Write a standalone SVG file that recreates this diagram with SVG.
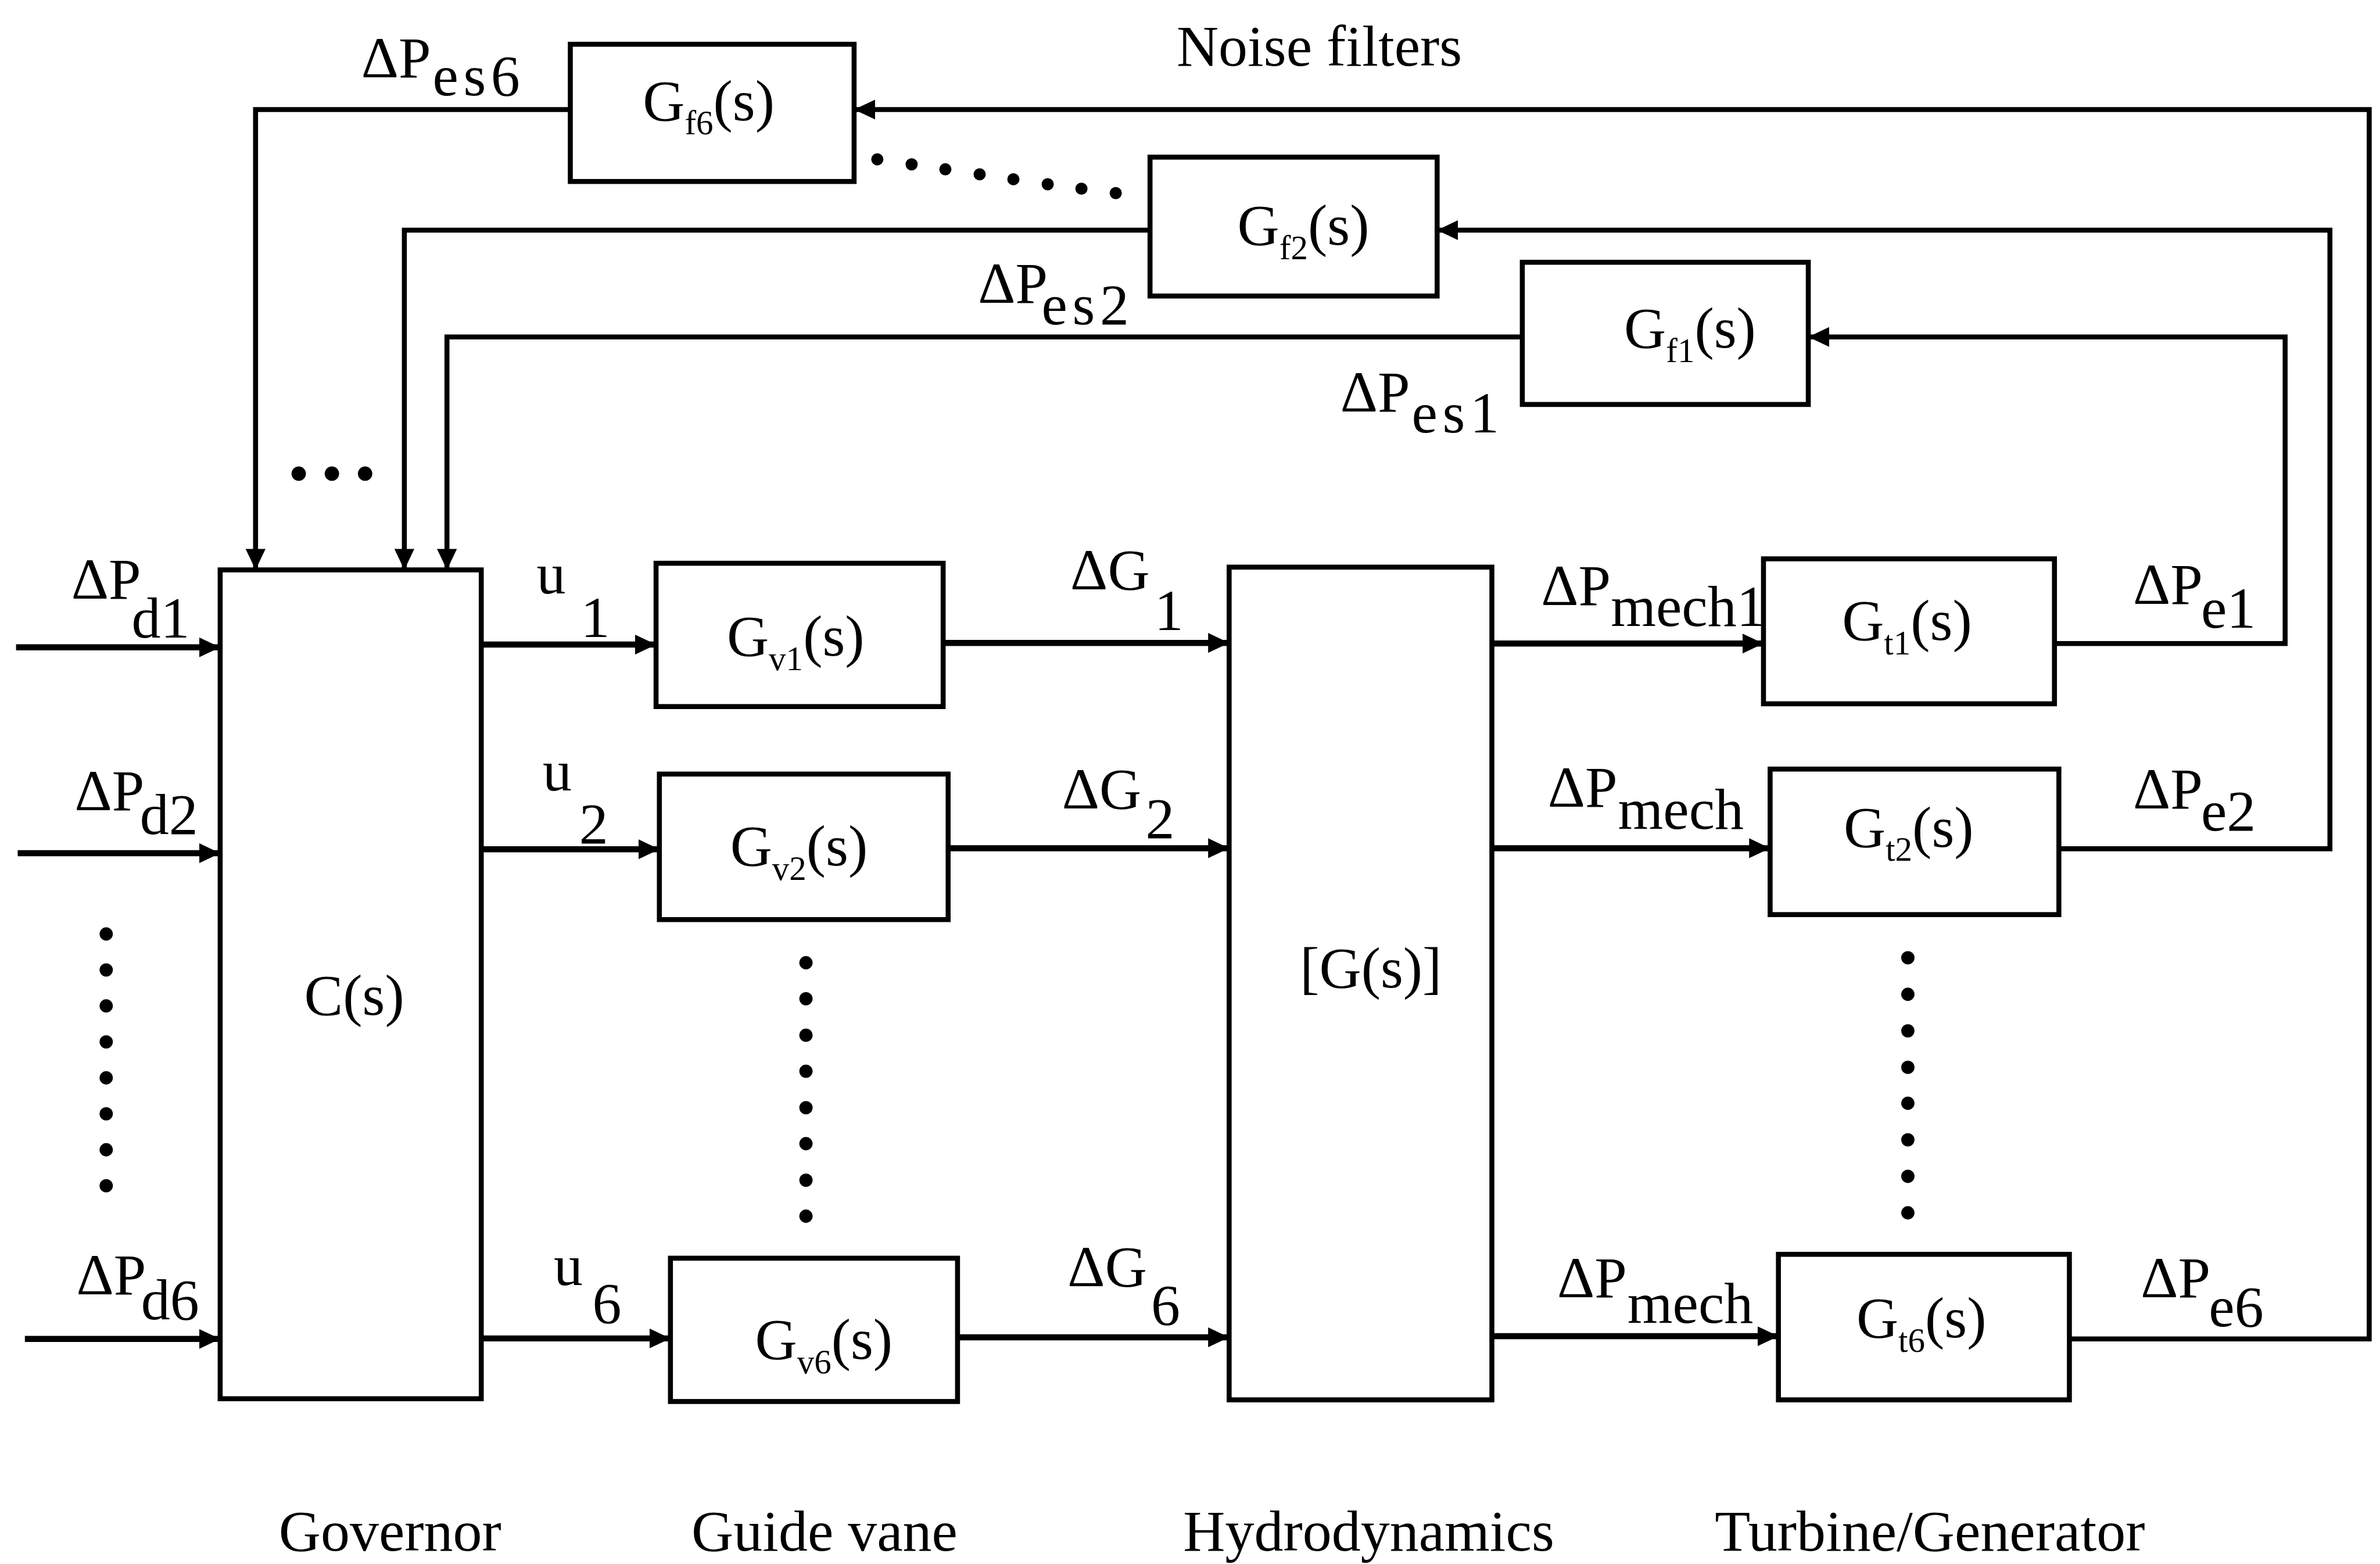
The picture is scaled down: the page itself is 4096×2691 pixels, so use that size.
<svg xmlns="http://www.w3.org/2000/svg" width="4096" height="2691" viewBox="0 0 4096 2691">
<style>
.bx{fill:none;stroke:#000;stroke-width:9}
.ln{fill:none;stroke:#000;stroke-width:11;stroke-linejoin:miter}
.fb{fill:none;stroke:#000;stroke-width:9;stroke-linejoin:miter}
.t{font-family:"Liberation Serif","Times New Roman",serif;font-size:105px;fill:#000}
.s{font-size:62px}
.sp{letter-spacing:9px}
.dot{fill:#000}
</style>
<defs>
<marker id="ah" markerUnits="userSpaceOnUse" markerWidth="40" markerHeight="38" refX="38" refY="18" orient="auto" viewBox="0 0 40 38">
<path d="M0,0 L38,18 L0,36 Z" fill="#000"/>
</marker>
</defs>
<rect width="4096" height="2691" fill="#fff"/>
<g transform="scale(0.952)">
<g id="connectors">
<path class="ln" marker-end="url(#ah)" d="M29,1170 H398"/>
<path class="ln" marker-end="url(#ah)" d="M32,1542 H398"/>
<path class="ln" marker-end="url(#ah)" d="M45,2420 H398"/>
<path class="ln" marker-end="url(#ah)" d="M870,1165 H1186"/>
<path class="ln" marker-end="url(#ah)" d="M870,1535 H1192"/>
<path class="ln" marker-end="url(#ah)" d="M870,2419 H1212"/>
<path class="ln" marker-end="url(#ah)" d="M1705,1162 H2222"/>
<path class="ln" marker-end="url(#ah)" d="M1714,1533 H2222"/>
<path class="ln" marker-end="url(#ah)" d="M1731,2417 H2222"/>
<path class="ln" marker-end="url(#ah)" d="M2697,1163 H3188"/>
<path class="ln" marker-end="url(#ah)" d="M2697,1533 H3200"/>
<path class="ln" marker-end="url(#ah)" d="M2697,2415 H3215"/>
<path class="fb" marker-end="url(#ah)" d="M3714,1163 H4131 V609 H3269"/>
<path class="fb" marker-end="url(#ah)" d="M3722,1534 H4212 V416 H2598"/>
<path class="fb" marker-end="url(#ah)" d="M3741,2420 H4283 V198 H1544"/>
<path class="fb" marker-end="url(#ah)" d="M1031,198 H462 V1030"/>
<path class="fb" marker-end="url(#ah)" d="M2079,416 H731 V1030"/>
<path class="fb" marker-end="url(#ah)" d="M2752,609 H808 V1030"/>
</g>
<g id="node-gf6"><rect class="bx" x="1031" y="80" width="513" height="248"/><text class="t" x="1162" y="217">G<tspan class="s" dy="26">f6</tspan><tspan dy="-26">(s)</tspan></text></g>
<g id="node-gf2"><rect class="bx" x="2079" y="284" width="519" height="251"/><text class="t" x="2237" y="442">G<tspan class="s" dy="26">f2</tspan><tspan dy="-26">(s)</tspan></text></g>
<g id="node-gf1"><rect class="bx" x="2752" y="474" width="517" height="257"/><text class="t" x="2936" y="628">G<tspan class="s" dy="26">f1</tspan><tspan dy="-26">(s)</tspan></text></g>
<g id="node-cs"><rect class="bx" x="398" y="1030" width="472" height="1498"/><text class="t" x="550" y="1834">C(s)</text></g>
<g id="node-gv1"><rect class="bx" x="1186" y="1018" width="519" height="259"/><text class="t" x="1314" y="1185">G<tspan class="s" dy="26">v1</tspan><tspan dy="-26">(s)</tspan></text></g>
<g id="node-gv2"><rect class="bx" x="1192" y="1399" width="522" height="263"/><text class="t" x="1320" y="1564">G<tspan class="s" dy="26">v2</tspan><tspan dy="-26">(s)</tspan></text></g>
<g id="node-gv6"><rect class="bx" x="1212" y="2274" width="519" height="259"/><text class="t" x="1365" y="2456">G<tspan class="s" dy="26">v6</tspan><tspan dy="-26">(s)</tspan></text></g>
<g id="node-gs"><rect class="bx" x="2222" y="1025" width="475" height="1505"/><text class="t" x="2350" y="1785">[G(s)]</text></g>
<g id="node-gt1"><rect class="bx" x="3188" y="1010" width="526" height="262"/><text class="t" x="3330" y="1157">G<tspan class="s" dy="26">t1</tspan><tspan dy="-26">(s)</tspan></text></g>
<g id="node-gt2"><rect class="bx" x="3200" y="1390" width="522" height="263"/><text class="t" x="3333" y="1530">G<tspan class="s" dy="26">t2</tspan><tspan dy="-26">(s)</tspan></text></g>
<g id="node-gt6"><rect class="bx" x="3215" y="2267" width="526" height="263"/><text class="t" x="3356" y="2417">G<tspan class="s" dy="26">t6</tspan><tspan dy="-26">(s)</tspan></text></g>
<g id="labels">
<text class="t" x="2127" y="119">Noise filters</text>
<text class="t" x="653" y="140">ΔP</text><text class="t sp" x="782" y="172">es6</text>
<text class="t" x="1768" y="547">ΔP</text><text class="t sp" x="1883" y="586">es2</text>
<text class="t" x="2423" y="744">ΔP</text><text class="t sp" x="2552" y="782">es1</text>
<text class="t" x="129" y="1082">ΔP</text><text class="t" x="238" y="1152">d1</text>
<text class="t" x="135" y="1464">ΔP</text><text class="t" x="253" y="1507">d2</text>
<text class="t" x="138" y="2339">ΔP</text><text class="t" x="255" y="2384">d6</text>
<text class="t" x="970" y="1073">u</text><text class="t" x="1050" y="1151">1</text>
<text class="t" x="981" y="1429">u</text><text class="t" x="1047" y="1524">2</text>
<text class="t" x="1001" y="2322">u</text><text class="t" x="1071" y="2391">6</text>
<text class="t" x="1935" y="1065">ΔG</text><text class="t" x="2087" y="1139">1</text>
<text class="t" x="1920" y="1461">ΔG</text><text class="t" x="2071" y="1515">2</text>
<text class="t" x="1930" y="2325">ΔG</text><text class="t" x="2081" y="2394">6</text>
<text class="t" x="2786" y="1093">ΔP</text><text class="t" x="2912" y="1131">mech1</text>
<text class="t" x="2798" y="1458">ΔP</text><text class="t" x="2925" y="1498">mech</text>
<text class="t" x="2815" y="2345">ΔP</text><text class="t" x="2942" y="2391">mech</text>
<text class="t" x="3856" y="1091">ΔP</text><text class="t" x="3979" y="1134">e1</text>
<text class="t" x="3856" y="1461">ΔP</text><text class="t" x="3979" y="1501">e2</text>
<text class="t" x="3870" y="2345">ΔP</text><text class="t" x="3993" y="2397">e6</text>
<text class="t" x="504" y="2802">Governor</text>
<text class="t" x="1250" y="2802">Guide vane</text>
<text class="t" x="2139" y="2802">Hydrodynamics</text>
<text class="t" x="3100" y="2802">Turbine/Generator</text>
</g>
<g id="dots">
<circle class="dot" cx="192" cy="1688" r="12"/><circle class="dot" cx="192" cy="1753" r="12"/><circle class="dot" cx="192" cy="1818" r="12"/><circle class="dot" cx="192" cy="1883" r="12"/><circle class="dot" cx="192" cy="1948" r="12"/><circle class="dot" cx="192" cy="2013" r="12"/><circle class="dot" cx="192" cy="2078" r="12"/><circle class="dot" cx="192" cy="2143" r="12"/>
<circle class="dot" cx="1457" cy="1740" r="12"/><circle class="dot" cx="1457" cy="1805" r="12"/><circle class="dot" cx="1457" cy="1871" r="12"/><circle class="dot" cx="1457" cy="1936" r="12"/><circle class="dot" cx="1457" cy="2002" r="12"/><circle class="dot" cx="1457" cy="2067" r="12"/><circle class="dot" cx="1457" cy="2133" r="12"/><circle class="dot" cx="1457" cy="2198" r="12"/>
<circle class="dot" cx="3449" cy="1731" r="12"/><circle class="dot" cx="3449" cy="1797" r="12"/><circle class="dot" cx="3449" cy="1863" r="12"/><circle class="dot" cx="3449" cy="1929" r="12"/><circle class="dot" cx="3449" cy="1994" r="12"/><circle class="dot" cx="3449" cy="2060" r="12"/><circle class="dot" cx="3449" cy="2126" r="12"/><circle class="dot" cx="3449" cy="2192" r="12"/>
<circle class="dot" cx="540" cy="856" r="13"/><circle class="dot" cx="600" cy="856" r="13"/><circle class="dot" cx="660" cy="856" r="13"/>
<circle class="dot" cx="1586" cy="288" r="11"/><circle class="dot" cx="1648" cy="297" r="11"/><circle class="dot" cx="1709" cy="306" r="11"/><circle class="dot" cx="1771" cy="315" r="11"/><circle class="dot" cx="1832" cy="324" r="11"/><circle class="dot" cx="1894" cy="333" r="11"/><circle class="dot" cx="1955" cy="341" r="11"/><circle class="dot" cx="2017" cy="349" r="11"/>
</g>
</g>
</svg>
